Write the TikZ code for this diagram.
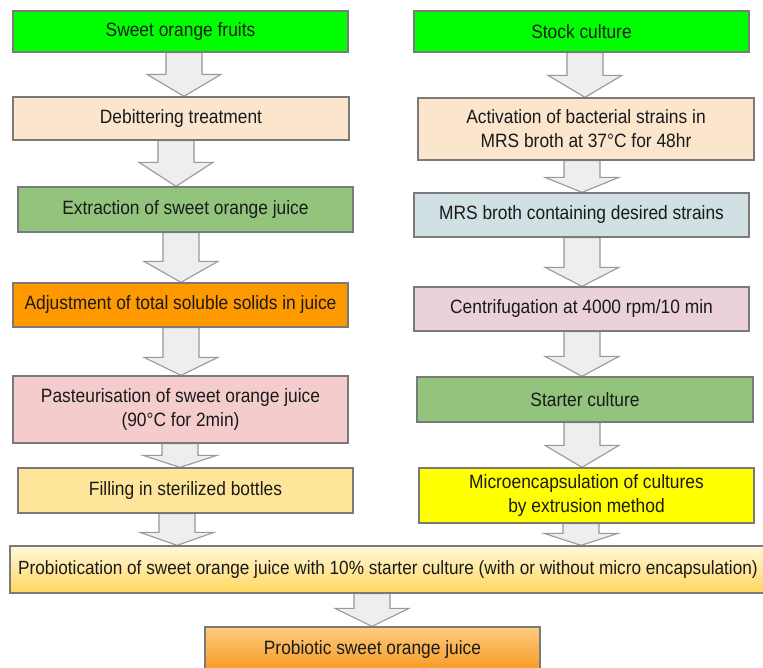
\documentclass[tikz,border=0pt]{standalone}
\usepackage{fontspec}
\setmainfont{Liberation Sans}[FakeStretch=0.9]
\usetikzlibrary{calc}
\definecolor{bgreen}{HTML}{00FF00}
\definecolor{peach}{HTML}{FCE5CD}
\definecolor{mgreen}{HTML}{93C47D}
\definecolor{orng}{HTML}{FF9900}
\definecolor{pnk}{HTML}{F4CCCC}
\definecolor{lyel}{HTML}{FFE599}
\definecolor{lblue}{HTML}{D0E0E3}
\definecolor{mauve}{HTML}{EAD1DC}
\definecolor{yel}{HTML}{FFFF00}
\definecolor{gtop}{HTML}{FFF7DA}
\definecolor{gbot}{HTML}{FFD75E}
\definecolor{otop}{HTML}{FDCB80}
\definecolor{obot}{HTML}{F7981F}
\definecolor{boxline}{HTML}{7A7A7A}
\definecolor{arrline}{HTML}{989898}
\definecolor{arrfill}{HTML}{EEEEEE}
\definecolor{txt}{HTML}{1A1A1A}
\pgfdeclarelayer{bg}
\pgfsetlayers{bg,main}
\newcommand\myflowarrow[4]{%
 \draw[barrowst] let \p1=(#1.south), \p2=(#2.north) in
 ({#3pt-18pt},\y1) -- ({#3pt+18pt},\y1) -- ({#3pt+18pt},{\y2+#4pt}) -- ({#3pt+37pt},{\y2+#4pt})
 -- ({#3pt},\y2) -- ({#3pt-37pt},{\y2+#4pt}) -- ({#3pt-18pt},{\y2+#4pt}) -- cycle;}
\begin{document}
\begin{tikzpicture}[x=1pt,y=-1pt,
 box/.style={draw=boxline, line width=1.3pt, text=txt, align=center,
   font=\fontsize{19.3}{24}\selectfont, inner sep=0pt},
 barrowst/.style={draw=arrline, fill=arrfill, line width=1.1pt, line join=miter}]
\useasboundingbox (0,0) rectangle (763,668);
\clip (0,0) rectangle (763,668);
\begin{pgfonlayer}{bg}
\fill[white] (0,0) rectangle (763,668);
\end{pgfonlayer}
% left column
\node[box, fill=bgreen, minimum width=335, minimum height=41] (l1) at (180.5,31.5) {Sweet orange fruits};
\node[box, fill=peach, minimum width=336, minimum height=43] (l2) at (181,118.5) {Debittering treatment};
\node[box, fill=mgreen, minimum width=335, minimum height=45] (l3) at (185.5,209.5) {Extraction of sweet orange juice};
\node[box, fill=orng, minimum width=335, minimum height=44] (l4) at (180.5,305) {Adjustment of total soluble solids in juice};
\node[box, fill=pnk, minimum width=335, minimum height=67] (l5) at (180.5,409.5) {Pasteurisation of sweet orange juice\\(90°C for 2min)};
\node[box, fill=lyel, minimum width=335, minimum height=45] (l6) at (185.5,490.5) {Filling in sterilized bottles};
% right column
\node[box, fill=bgreen, minimum width=335, minimum height=41] (r1) at (581.5,31.5) {Stock culture};
\node[box, fill=peach, minimum width=336, minimum height=62] (r2) at (586,129) {Activation of bacterial strains in\\MRS broth at 37°C for 48hr};
\node[box, fill=lblue, minimum width=335, minimum height=44] (r3) at (581.5,215) {MRS broth containing desired strains};
\node[box, fill=mauve, minimum width=335, minimum height=44] (r4) at (581.5,309) {Centrifugation at 4000 rpm/10 min};
\node[box, fill=mgreen, minimum width=336, minimum height=45] (r5) at (585,399.5) {Starter culture};
\node[box, fill=yel, minimum width=335, minimum height=55] (r6) at (586.5,495.5) {Microencapsulation of cultures\\by extrusion method};
% bottom
\node[box, top color=gtop, bottom color=gbot, minimum width=756, minimum height=47,
  font=\fontsize{19.1}{24}\selectfont] (b1) at (388,569.5) {Probiotication of sweet orange juice with 10\% starter culture (with or without micro encapsulation)};
\node[box, top color=otop, bottom color=obot, minimum width=335, minimum height=45] (b2) at (372.5,649.5) {Probiotic sweet orange juice};
% arrows
\begin{pgfonlayer}{bg}
\myflowarrow{l1}{l2}{184}{22}
\myflowarrow{l2}{l3}{176}{24}
\myflowarrow{l3}{l4}{181}{21}
\myflowarrow{l4}{l5}{181}{18}
\myflowarrow{l5}{l6}{180}{12}
\myflowarrow{l6}{b1}{177}{13}
\myflowarrow{r1}{r2}{585}{22}
\myflowarrow{r2}{r3}{582}{15}
\myflowarrow{r3}{r4}{582}{19}
\myflowarrow{r4}{r5}{582}{20}
\myflowarrow{r5}{r6}{582}{22}
\myflowarrow{r6}{b1}{581}{12}
\myflowarrow{b1}{b2}{372}{18}
\end{pgfonlayer}
\end{tikzpicture}
\end{document}
